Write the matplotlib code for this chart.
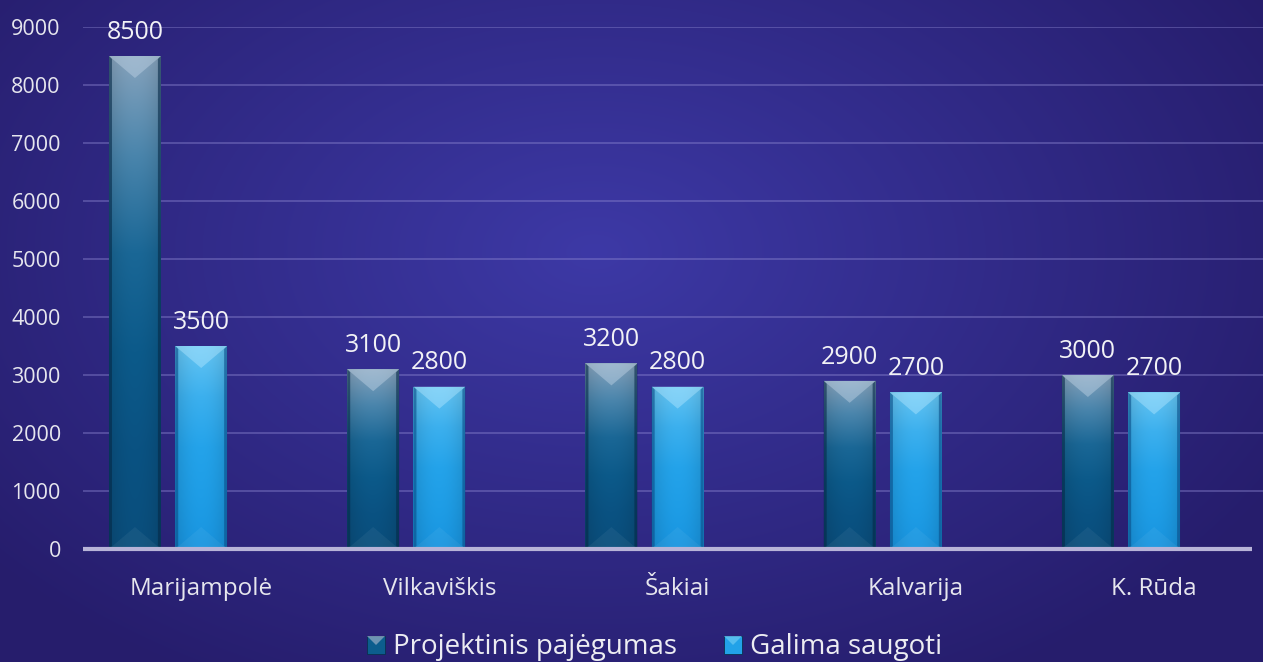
import numpy as np
import matplotlib
matplotlib.use("Agg")
import matplotlib.pyplot as plt
from matplotlib.colors import LinearSegmentedColormap, to_rgb
from matplotlib.patches import Polygon, Rectangle

categories = ["Marijampolė", "Vilkaviškis", "Šakiai", "Kalvarija", "K. Rūda"]
series_names = ["Projektinis pajėgumas", "Galima saugoti"]
projektinis = [8500, 3100, 3200, 2900, 3000]
galima = [3500, 2800, 2800, 2700, 2700]
yticks = [0, 1000, 2000, 3000, 4000, 5000, 6000, 7000, 8000, 9000]

FONT = ["Open Sans", "DejaVu Sans"]
plt.rcParams["font.family"] = FONT

W, H = 1263, 662
fig = plt.figure(figsize=(W / 100, H / 100), dpi=100)

# background radial gradient
bg = fig.add_axes([0, 0, 1, 1], zorder=-10)
bg.axis("off")
yy, xx = np.mgrid[0:H, 0:W]
cx, cy = 0.47 * W, 0.38 * H
r = np.sqrt(((xx - cx) / (0.62 * W)) ** 2 + ((yy - cy) / (0.75 * H)) ** 2)
r = np.clip(r, 0, 1)
c_in = np.array(to_rgb("#3d39a6"))
c_out = np.array(to_rgb("#261d6c"))
img = c_in[None, None, :] * (1 - r[..., None]) + c_out[None, None, :] * r[..., None]
bg.imshow(img, extent=[0, 1, 0, 1], aspect="auto", origin="upper")
bg.set_xlim(0, 1)
bg.set_ylim(0, 1)

ax = fig.add_axes([83 / W, 1 - 549 / H, (W - 83) / W, (549 - 27) / H])
ax.patch.set_alpha(0)
XL = (-0.357, 4.596)
YL = (0, 9000)
ax.set_xlim(*XL)
ax.set_ylim(*YL)
for s in ax.spines.values():
    s.set_visible(False)

for t in yticks[1:]:
    ax.axhline(t, color="#8c86d0", lw=1.3, alpha=0.45, zorder=1)
ax.plot([XL[0], 4.55], [0, 0], color="#b8b4d8", lw=3, zorder=5, solid_capstyle="butt", clip_on=False)

offset = 0.139
width = 0.218
x = np.arange(len(categories))

cmap1 = LinearSegmentedColormap.from_list("c1", ["#86a3bd", "#4a85ac", "#1a6796", "#0c5a8a", "#0a5282", "#0a4e7c"])
cmap2 = LinearSegmentedColormap.from_list("c2", ["#66c6f4", "#3cb0ee", "#24a3ea", "#1e9de6", "#1995e0"])

ypp = (YL[1] - YL[0]) / 522.0  # data units per pixel
xpp = (XL[1] - XL[0]) / (W - 83)


def draw_bar(xc, v, cmap, top_col, edge_col):
    x0, x1 = xc - width / 2, xc + width / 2
    rect = Rectangle((x0, 0), width, v, facecolor="none", edgecolor="none", zorder=3)
    ax.add_patch(rect)
    grad = np.linspace(0, 1, 256)[:, None]
    hs = np.linspace(-1, 1, 64)[None, :]
    rgba = cmap(np.repeat(grad, 64, axis=1))
    shade = 1 - 0.12 * hs ** 2
    rgba[..., :3] *= shade[..., None]
    im = ax.imshow(rgba, extent=[x0, x1, 0, v], origin="upper", aspect="auto", zorder=3,
                   interpolation="bilinear")
    im.set_clip_path(rect)
    d = 22 * ypp
    e = 3 * xpp
    # top chevron
    ax.add_patch(Polygon([(x0, v), (x1, v), (xc, v - d)], closed=True, facecolor=top_col,
                         edgecolor="none", alpha=0.45, zorder=4))
    # side edges
    ax.add_patch(Polygon([(x0, v), (x0 + e, v - 3 * ypp), (x0 + e, 3 * ypp), (x0, 0)], closed=True,
                         facecolor=edge_col, edgecolor="none", alpha=0.6, zorder=4))
    ax.add_patch(Polygon([(x1, v), (x1 - e, v - 3 * ypp), (x1 - e, 3 * ypp), (x1, 0)], closed=True,
                         facecolor=edge_col, edgecolor="none", alpha=0.6, zorder=4))
    # bottom bevel
    ax.add_patch(Polygon([(x0, 0), (x1, 0), (xc, d)], closed=True, facecolor="white",
                         edgecolor="none", alpha=0.05, zorder=4))
    ax.annotate(f"{v}", (xc, v), xytext=(0, 8), textcoords="offset points", ha="center", va="bottom",
                fontsize=18, color="#f2f2f6", zorder=6)


for i in range(len(categories)):
    draw_bar(x[i] - offset, projektinis[i], cmap1, "#c0d4e6", "#062a48")
    draw_bar(x[i] + offset, galima[i], cmap2, "#b0e6ff", "#0a4f8a")

ax.set_xlim(*XL)
ax.set_ylim(*YL)

ax.set_yticks(yticks)
ax.set_yticklabels([str(t) for t in yticks], fontsize=15.5, color="#e6e6ee")
ax.set_xticks(x + offset)
ax.set_xticklabels(categories, fontsize=17.5, color="#e6e6ee")
ax.tick_params(axis="y", length=0, pad=16)
ax.tick_params(axis="x", length=0, pad=20)

# legend (manual)
leg_items = [(367, series_names[0], "#0c5d8d", "#86a3bd"), (724, series_names[1], "#22a2e8", "#62c4f2")]
for px, name, base, top in leg_items:
    sq = Rectangle((px / W, 1 - 654 / H), 18 / W, 18 / H, transform=fig.transFigure,
                   facecolor=base, edgecolor="#0a3050", lw=0.6)
    fig.patches.append(sq)
    fig.patches.append(Polygon([(px / W, 1 - 636 / H), ((px + 18) / W, 1 - 636 / H), ((px + 9) / W, 1 - 645 / H)],
                               closed=True, transform=fig.transFigure, facecolor=top, edgecolor="none", alpha=0.8))
    fig.text((px + 26) / W, 1 - 647 / H, name, fontsize=20, color="#ececf2", ha="left", va="center")

fig.savefig("out.png", dpi=100)
